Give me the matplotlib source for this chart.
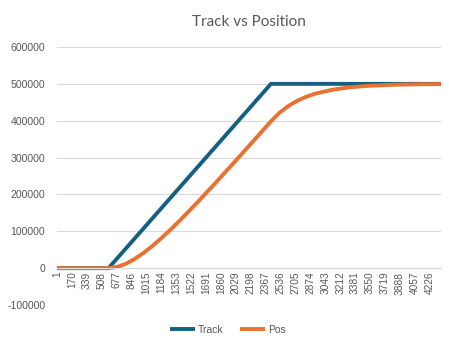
import matplotlib
matplotlib.use("Agg")
import matplotlib.pyplot as plt

# sample index (category number) -> value
n_points = 4356

track_idx = [1, 585, 2427, 4356]
track_val = [0, 0, 500000, 500000]

pos_idx = [1, 585, 685, 785, 885, 985, 1085, 1185, 1285, 1385, 1585, 1785,
           2085, 2427, 2527, 2627, 2727, 2827, 2927, 3127, 3327, 3527, 3827,
           4127, 4356]
pos_val = [0, 0, 3300, 12200, 25300, 41800, 60700, 81500, 103800, 127200,
           176400, 227700, 306700, 398300, 422100, 440300, 454300, 465000,
           473200, 484200, 490800, 494600, 497600, 498900, 499400]

x_ticks = list(range(1, 4227, 169))
y_ticks = [-100000, 0, 100000, 200000, 300000, 400000, 500000, 600000]

grey = "#595959"
grid = "#d9d9d9"

plt.rcParams["font.family"] = ["Liberation Sans", "DejaVu Sans"]

fig = plt.figure(figsize=(4.49, 3.5), dpi=100)
ax = fig.add_axes([57 / 449, 1 - 305 / 350, 384 / 449, 258 / 350])

ax.plot(track_idx, track_val, color="#156082", lw=2.8, label="Track",
        solid_capstyle="butt")
ax.plot(pos_idx, pos_val, color="#E97132", lw=2.8, label="Pos",
        solid_capstyle="butt")

ax.grid(axis="y", color=grid, lw=0.8)
ax.set_axisbelow(True)
for side in ["top", "right", "left"]:
    ax.spines[side].set_visible(False)
ax.spines["bottom"].set_position(("data", 0))
ax.spines["bottom"].set_color(grid)
ax.spines["bottom"].set_linewidth(0.8)

ax.set_xlim(0.5, n_points + 0.5)
ax.set_ylim(-100000, 600000)
ax.set_yticks(y_ticks)
ax.set_yticklabels([str(v) for v in y_ticks])
ax.set_xticks(x_ticks)
ax.set_xticklabels([str(v) for v in x_ticks])

ax.tick_params(axis="y", length=0, pad=8.5, labelsize=7.6, labelcolor=grey)
ax.tick_params(axis="x", length=0, pad=2.5, labelsize=7.3, labelcolor=grey,
               labelrotation=90)

fig.text(249 / 449, 1 - 22 / 350, "Track vs Position", ha="center",
         va="center", fontsize=11, color=grey, family=["Lato", "DejaVu Sans"])

fig.legend(loc="center", bbox_to_anchor=(228 / 449, 1 - 330 / 350), ncol=2,
           frameon=False, fontsize=7.5, labelcolor=grey, handlelength=2.4,
           handletextpad=0.25, columnspacing=1.6)

fig.savefig("out.png", dpi=100)
